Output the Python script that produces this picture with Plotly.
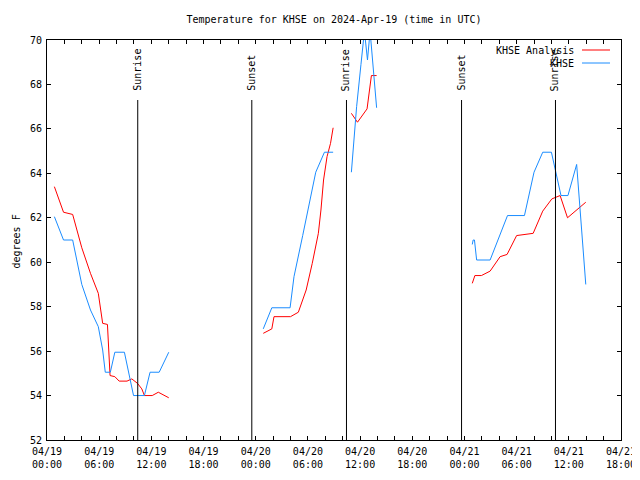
import plotly.graph_objects as go

# ---- data ----
analysis_times = [
    "2024-04-19 00:51", "2024-04-19 01:54", "2024-04-19 02:57", "2024-04-19 04:00",
    "2024-04-19 05:00", "2024-04-19 05:54", "2024-04-19 06:24", "2024-04-19 06:57",
    "2024-04-19 07:15", "2024-04-19 07:48", "2024-04-19 08:18", "2024-04-19 09:12",
    "2024-04-19 09:45", "2024-04-19 10:24", "2024-04-19 10:54", "2024-04-19 11:12",
    "2024-04-19 12:06", "2024-04-19 12:48", "2024-04-19 14:00",
    "2024-04-19 18:00",
    "2024-04-20 00:52", "2024-04-20 01:51", "2024-04-20 02:06", "2024-04-20 04:00",
    "2024-04-20 04:54", "2024-04-20 05:48", "2024-04-20 06:30", "2024-04-20 07:12",
    "2024-04-20 07:30", "2024-04-20 07:48", "2024-04-20 08:12", "2024-04-20 08:36",
    "2024-04-20 08:54",
    "2024-04-20 10:00",
    "2024-04-20 11:00", "2024-04-20 11:42", "2024-04-20 12:48", "2024-04-20 13:18",
    "2024-04-20 13:54",
    "2024-04-20 18:00",
    "2024-04-21 00:54", "2024-04-21 01:12", "2024-04-21 01:57", "2024-04-21 02:57",
    "2024-04-21 04:06", "2024-04-21 04:54", "2024-04-21 06:00", "2024-04-21 07:54",
    "2024-04-21 09:00", "2024-04-21 10:03", "2024-04-21 11:00", "2024-04-21 11:51",
    "2024-04-21 13:57",
]
analysis_temps = [
    63.4, 62.25, 62.15, 60.65,
    59.5, 58.6, 57.25, 57.2,
    54.9, 54.85, 54.65, 54.65,
    54.75, 54.55, 54.3, 54.0,
    54.0, 54.15, 53.9,
    None,
    56.8, 57.0, 57.55, 57.55,
    57.75, 58.75, 59.95, 61.3,
    62.35, 63.7, 64.75, 65.35,
    66.05,
    None,
    66.7, 66.3, 66.9, 68.4,
    68.4,
    None,
    59.05, 59.4, 59.4, 59.6,
    60.25, 60.35, 61.2, 61.3,
    62.3, 62.85, 63.0, 62.0,
    62.7,
]

obs_times = [
    "2024-04-19 00:51", "2024-04-19 01:54", "2024-04-19 02:57", "2024-04-19 04:00",
    "2024-04-19 05:00", "2024-04-19 05:54", "2024-04-19 06:24", "2024-04-19 06:42",
    "2024-04-19 07:17", "2024-04-19 07:48", "2024-04-19 08:54", "2024-04-19 09:57",
    "2024-04-19 11:12", "2024-04-19 11:51", "2024-04-19 12:54", "2024-04-19 14:00",
    "2024-04-19 18:00",
    "2024-04-20 00:52", "2024-04-20 01:51", "2024-04-20 03:57", "2024-04-20 04:24",
    "2024-04-20 05:24", "2024-04-20 06:21", "2024-04-20 06:54", "2024-04-20 07:54",
    "2024-04-20 08:54",
    "2024-04-20 10:00",
    "2024-04-20 11:00", "2024-04-20 11:36", "2024-04-20 12:06", "2024-04-20 12:30",
    "2024-04-20 12:51", "2024-04-20 13:09", "2024-04-20 13:54",
    "2024-04-20 18:00",
    "2024-04-21 00:54", "2024-04-21 01:00", "2024-04-21 01:09", "2024-04-21 01:24",
    "2024-04-21 02:57", "2024-04-21 04:57", "2024-04-21 06:54", "2024-04-21 08:00",
    "2024-04-21 09:00", "2024-04-21 10:00", "2024-04-21 11:06", "2024-04-21 11:54",
    "2024-04-21 12:54", "2024-04-21 13:57",
]
obs_temps = [
    62.05, 61.0, 61.0, 59.0,
    57.85, 57.1, 56.05, 55.05,
    55.05, 55.95, 55.95, 54.0,
    54.0, 55.05, 55.05, 55.95,
    None,
    57.0, 57.95, 57.95, 59.35,
    61.2, 62.95, 64.05, 64.95,
    64.95,
    None,
    64.05, 67.0, 68.9, 70.4,
    69.1, 70.4, 66.95,
    None,
    60.8, 61.0, 61.0, 60.1,
    60.1, 62.1, 62.1, 64.05,
    64.95, 64.95, 63.0, 63.0,
    64.4, 59.0,
]

sun_times = ["2024-04-19 10:26", "2024-04-19 23:33", "2024-04-20 10:26",
             "2024-04-20 23:40", "2024-04-21 10:28"]
sun_labels = ["Sunrise", "Sunset", "Sunrise", "Sunset", "Sunrise"]

series_names = ["KHSE Analysis", "KHSE"]
series_colors = ["#ff0000", "#1a8cff"]

FONT = "DejaVu Sans Mono"
FS = 10
OFF = 8  # page body margin in the browser
W, H = 640 - OFF, 480 - OFF
# plot area in screen pixels: x 47..621, y 40..440
SX0, SX1, SY0, SY1 = 47, 621, 40, 440
ML, MT = SX0 - OFF, SY0 - OFF
MR, MB = 640 - SX1, 480 - SY1
PW = SX1 - SX0
PH = SY1 - SY0


def px_x(px):
    return (px - SX0) / PW


def px_y(py):
    return (SY1 - py) / PH


fig = go.Figure()
fig.add_trace(go.Scatter(x=analysis_times, y=analysis_temps, mode="lines",
                         line=dict(color=series_colors[0], width=1),
                         name=series_names[0], connectgaps=False))
fig.add_trace(go.Scatter(x=obs_times, y=obs_temps, mode="lines",
                         line=dict(color=series_colors[1], width=1),
                         name=series_names[1], connectgaps=False))

shapes = []
annotations = []
for t, lab in zip(sun_times, sun_labels):
    shapes.append(dict(type="line", xref="x", yref="paper", x0=t, x1=t,
                       y0=0, y1=px_y(100), line=dict(color="black", width=1)))
    annotations.append(dict(x=t, xref="x", y=px_y(93), yref="paper",
                            text=lab, textangle=-90, showarrow=False,
                            xanchor="center", yanchor="bottom",
                            font=dict(family=FONT, size=FS, color="black")))

# legend (gnuplot style: text then line sample)
for i, (nm, col) in enumerate(zip(series_names, series_colors)):
    ly = 50 + 13 * i
    annotations.append(dict(x=px_x(576), xref="paper", y=px_y(ly), yref="paper",
                            text=nm, showarrow=False, xanchor="right",
                            yanchor="middle",
                            font=dict(family=FONT, size=FS, color="black")))
    shapes.append(dict(type="line", xref="paper", yref="paper",
                       x0=px_x(582), x1=px_x(610), y0=px_y(ly), y1=px_y(ly),
                       line=dict(color=col, width=1)))

# y axis title
annotations.append(dict(x=px_x(OFF), xref="paper", y=px_y(242), yref="paper",
                        text="degrees F", textangle=-90, showarrow=False,
                        xanchor="left", yanchor="middle",
                        font=dict(family=FONT, size=FS, color="black")))

fig.update_layout(
    width=W, height=H,
    margin=dict(l=ML, r=MR, t=MT, b=MB, autoexpand=False),
    paper_bgcolor="white", plot_bgcolor="white",
    showlegend=False,
    font=dict(family=FONT, size=FS, color="black"),
    title=dict(text="Temperature for KHSE on 2024-Apr-19 (time in UTC)",
               x=0.5, xref="paper", y=1 - (19 - OFF) / H, yref="container",
               xanchor="center", yanchor="middle",
               font=dict(family=FONT, size=FS, color="black")),
    shapes=shapes, annotations=annotations,
)
fig.update_xaxes(
    type="date", automargin=False,
    range=["2024-04-19 00:00", "2024-04-21 18:00"],
    tick0="2024-04-19 00:00", dtick=6 * 3600 * 1000,
    tickformat="%m/%d<br>%H:%M",
    ticks="inside", ticklen=4, tickcolor="black",
    ticklabelstandoff=2,
    minor=dict(dtick=2 * 3600 * 1000, ticks="inside", ticklen=4,
               tickcolor="black", showgrid=False),
    showline=True, linecolor="black", linewidth=1, mirror="ticks",
    showgrid=False, zeroline=False,
    tickfont=dict(family=FONT, size=FS),
)
fig.update_yaxes(
    automargin=False,
    range=[52, 70], dtick=2, tick0=52,
    ticks="inside", ticklen=4, tickcolor="black",
    ticklabelstandoff=2,
    showline=True, linecolor="black", linewidth=1, mirror="ticks",
    showgrid=False, zeroline=False,
    tickfont=dict(family=FONT, size=FS),
)

fig.write_html("out.html")
